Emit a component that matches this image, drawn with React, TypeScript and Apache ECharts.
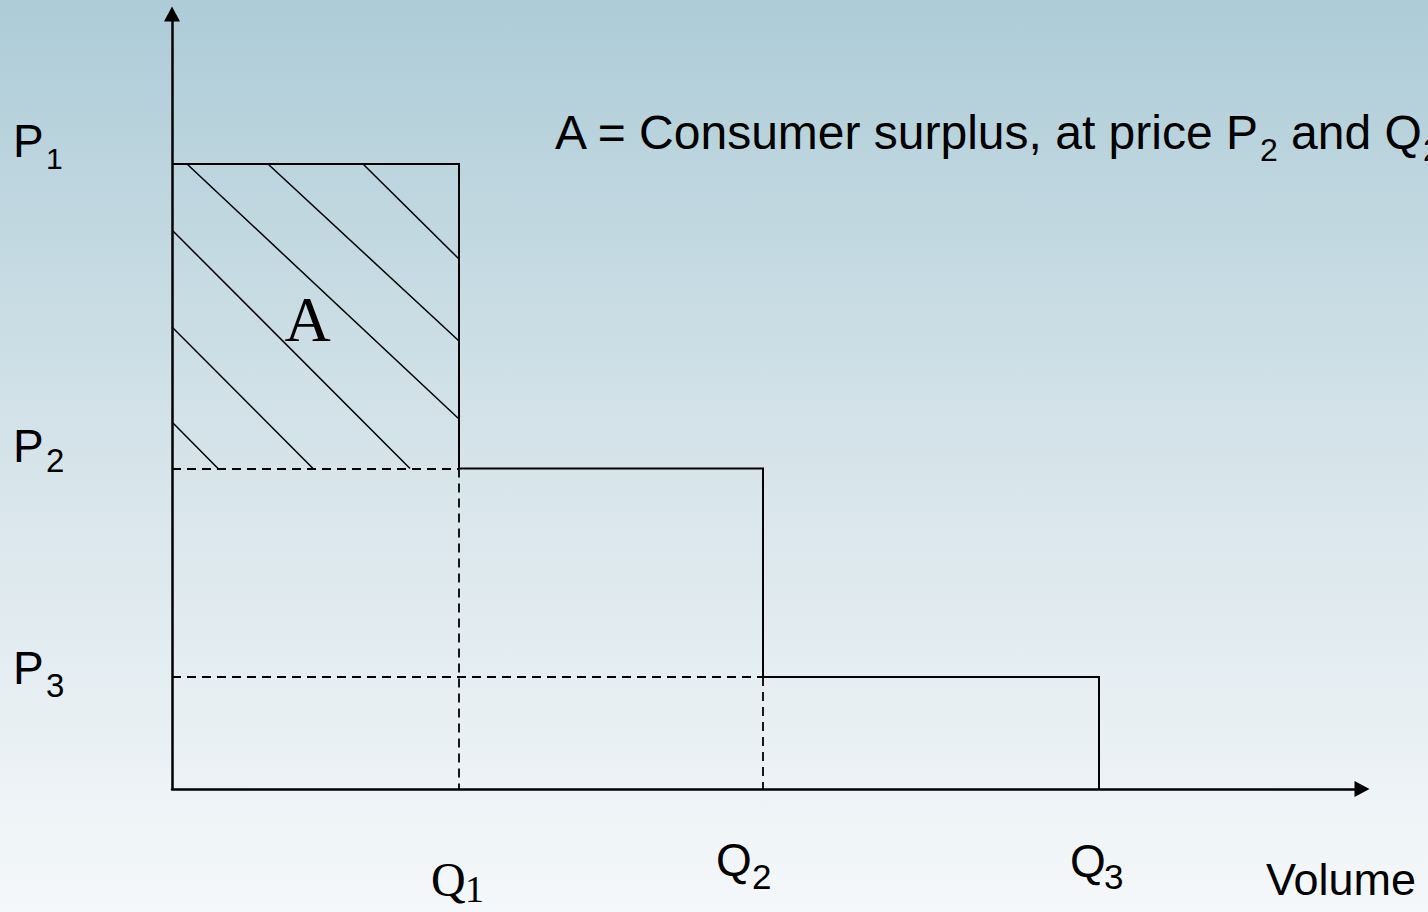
import React, { useEffect, useRef } from 'react';
import * as echarts from 'echarts';

// ---- data (axis units: 1 unit = 10 px) ----
const Q_NAMES = ['Q', 'Q', 'Q'];
const Q_SUBS = ['1', '2', '3'];
const Q_VALUES = [28.7, 59.1, 92.7];
const P_NAMES = ['P', 'P', 'P'];
const P_SUBS = ['1', '2', '3'];
const P_VALUES = [62.5, 32.05, 11.2];
const X_MAX = 119;
const Y_MAX = 77.5;
// hatch segments [x1, y1, x2, y2]
const HATCH_LINES = [
  [19.1, 62.5, 28.7, 53.0],
  [9.6, 62.5, 28.7, 44.8],
  [1.5, 62.5, 28.7, 37.0],
  [0, 55.9, 23.8, 32.05],
  [0, 46.2, 14.1, 32.05],
  [0, 36.7, 4.6, 32.05],
];
const TITLE_PARTS = ['A = Consumer surplus, at price P', '2', 'and Q', '2'];
const AREA_LABEL = 'A';
const X_AXIS_NAME = 'Volume';

const SANS = '"Liberation Sans", Arial, Helvetica, sans-serif';
const SERIF = '"Liberation Serif", "Times New Roman", Times, serif';

export default function App() {
  const ref = useRef<HTMLDivElement>(null);

  useEffect(() => {
    document.body.style.margin = '0';
    const chart = echarts.init(ref.current!, null, { renderer: 'svg' });

    const [Q1, Q2, Q3] = Q_VALUES;
    const [P1, P2, P3] = P_VALUES;

    const stepCoords = [
      [0, P1], [Q1, P1], [Q1, P2], [Q2, P2], [Q2, P3], [Q3, P3], [Q3, 0],
    ];
    const dashedSegs = [
      [[0, P2], [Q1, P2]],
      [[Q1, P2], [Q1, 0]],
      [[0, P3], [Q2, P3]],
      [[Q2, P3], [Q2, 0]],
    ];

    const axisCommon = {
      type: 'value' as const,
      min: 0,
      axisTick: { show: false },
      axisLabel: { show: false },
      splitLine: { show: false },
      axisLine: {
        show: true,
        onZero: false,
        symbol: ['none', 'triangle'],
        symbolSize: [16, 15],
        lineStyle: { color: '#000', width: 2.5 },
      },
    };

    chart.setOption({
      animation: false,
      backgroundColor: 'transparent',
      grid: { left: 172, top: 14, width: 1190, height: 775 },
      xAxis: { ...axisCommon, max: X_MAX },
      yAxis: { ...axisCommon, max: Y_MAX },
      series: [
        {
          type: 'lines',
          coordinateSystem: 'cartesian2d',
          silent: true,
          lineStyle: { color: '#000', width: 1.5, opacity: 1 },
          data: HATCH_LINES.map((h) => ({ coords: [[h[0], h[1]], [h[2], h[3]]] })),
        },
        {
          type: 'lines',
          coordinateSystem: 'cartesian2d',
          silent: true,
          lineStyle: { color: '#000', width: 1.8, opacity: 1, type: [9, 6] },
          data: dashedSegs.map((c) => ({ coords: c })),
        },
        {
          type: 'lines',
          coordinateSystem: 'cartesian2d',
          polyline: true,
          silent: true,
          lineStyle: { color: '#000', width: 2, opacity: 1 },
          data: [{ coords: stepCoords }],
        },
      ],
    });

    const px = (x: number, y: number) =>
      chart.convertToPixel({ gridIndex: 0 }, [x, y]) as number[];

    const txt = (
      text: string, x: number, y: number, size: number, family: string,
      align: string = 'left'
    ) => ({
      type: 'text',
      x, y,
      silent: true,
      style: {
        text, fill: '#000', fontSize: size, fontFamily: family,
        align, verticalAlign: 'middle', textAlign: align, textVerticalAlign: 'middle',
      },
    });

    const g: any[] = [];
    // P labels (left of y axis)
    const pMainDy = [-23.5, -22.5, -9];
    const pSubDy = [-5.5, -8, 8];
    const pSubSize = [30, 33, 33];
    P_VALUES.forEach((p, i) => {
      const y = px(0, p)[1];
      g.push(txt(P_NAMES[i], 13, y + pMainDy[i], 46, SANS));
      g.push(txt(P_SUBS[i], 46, y + pSubDy[i], pSubSize[i], SANS));
    });
    // Q labels (below x axis)
    const xAxisY = px(0, 0)[1];
    const q1x = px(Q1, 0)[0];
    g.push(txt(Q_NAMES[0], q1x - 28, xAxisY + 90, 48, SERIF));
    g.push(txt(Q_SUBS[0], q1x + 6, xAxisY + 100, 38, SERIF));
    const q2x = px(Q2, 0)[0];
    g.push(txt(Q_NAMES[1], q2x - 47, xAxisY + 71, 46, SANS));
    g.push(txt(Q_SUBS[1], q2x - 11, xAxisY + 87, 35, SANS));
    const q3x = px(Q3, 0)[0];
    g.push(txt(Q_NAMES[2], q3x - 29, xAxisY + 72, 46, SANS));
    g.push(txt(Q_SUBS[2], q3x + 5, xAxisY + 87, 35, SANS));
    // axis name
    g.push(txt(X_AXIS_NAME, 1266, xAxisY + 90, 45, SANS));
    // title sentence
    g.push(txt(TITLE_PARTS[0], 555, 132, 48, SANS));
    g.push(txt(TITLE_PARTS[1], 1260, 149.5, 32, SANS));
    g.push(txt(TITLE_PARTS[2], 1291, 132, 48, SANS));
    g.push(txt(TITLE_PARTS[3], 1423, 149.5, 32, SANS));
    // area label
    const aPos = px(13.55, 46.95);
    g.push(txt(AREA_LABEL, aPos[0], aPos[1], 64, SERIF, 'center'));

    chart.setOption({ graphic: { elements: g } });

    return () => chart.dispose();
  }, []);

  return (
    <div
      ref={ref}
      style={{
        width: 1428,
        height: 912,
        background: 'linear-gradient(to bottom, #adccd7 0%, #d6e4ea 50%, #f5f8fa 100%)',
      }}
    />
  );
}
